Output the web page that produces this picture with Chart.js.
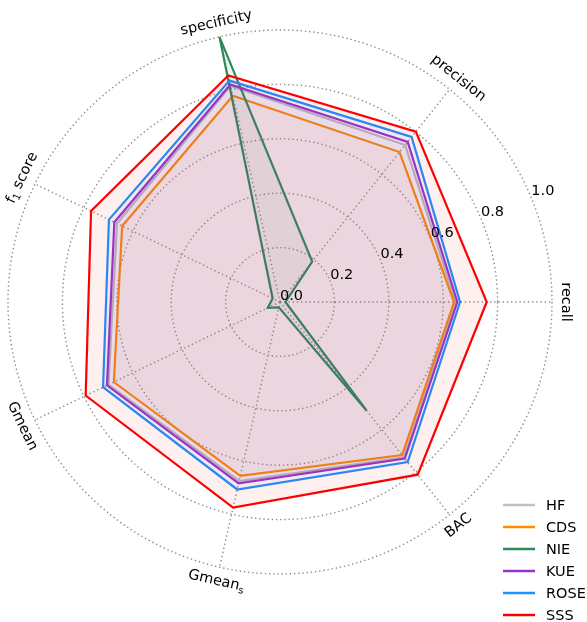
<!DOCTYPE html>
<html>
<head>
<meta charset="utf-8">
<script src="https://cdn.jsdelivr.net/npm/chart.js"></script>
<style>
    html, body { margin: 0; padding: 0; background: #fff; }
    canvas { display: block; }
</style>
</head>
<body>
<canvas id="radarChart" width="587" height="622"></canvas>
<script>
// axes in the order chart.js walks them (clockwise, starting on the right)
// '_' marks a one character subscript
const metrics = ['recall', 'BAC', 'Gmean_s', 'Gmean', 'f_1 score', 'specificity', 'precision']

const methods = ['HF', 'CDS', 'NIE', 'KUE', 'ROSE', 'SSS']
const colors = ['#c0c0c0', '#ff8c00', '#2e8b57', '#9932cc', '#1e90ff', '#ff0000']

const hfScores   = [0.645, 0.730, 0.675, 0.700, 0.665, 0.815, 0.738]
const cdsScores  = [0.640, 0.720, 0.656, 0.678, 0.644, 0.778, 0.705]
const nieScores  = [0.020, 0.510, 0.020, 0.050, 0.030, 1.000, 0.190]
const kueScores  = [0.652, 0.736, 0.684, 0.706, 0.676, 0.820, 0.753]
const roseScores = [0.662, 0.753, 0.707, 0.722, 0.698, 0.835, 0.776]
const sssScores  = [0.760, 0.812, 0.775, 0.793, 0.771, 0.854, 0.801]

const tickValues = [0, 0.2, 0.4, 0.6, 0.8, 1.0]
const tickLabels = ['0.0', '0.2', '0.4', '0.6', '0.8', '1.0']

const FONT = '14.5px "DejaVu Sans"'
const SUB_FONT = '10px "DejaVu Sans"'

function withAlpha(hex, a) {
    const n = parseInt(hex.slice(1), 16)
    return `rgba(${(n >> 16) & 255}, ${(n >> 8) & 255}, ${n & 255}, ${a})`
}

// 'f_1 score' -> [['f', false], ['1', true], [' score', false]]
function splitSub(text) {
    const bits = text.split('_')
    const parts = [[bits[0], false]]
    for (let i = 1; i < bits.length; i++) {
        parts.push([bits[i][0], true])
        if (bits[i].length > 1) parts.push([bits[i].slice(1), false])
    }
    return parts
}

function drawLabel(ctx, text, x, y, rot) {
    const parts = splitSub(text)
    let width = 0
    parts.forEach(p => {
        ctx.font = p[1] ? SUB_FONT : FONT
        p.push(ctx.measureText(p[0]).width)
        width += p[2]
    })
    ctx.save()
    ctx.translate(x, y)
    ctx.rotate(rot)
    ctx.textAlign = 'left'
    ctx.textBaseline = 'middle'
    let cx = -width / 2
    parts.forEach(p => {
        ctx.font = p[1] ? SUB_FONT : FONT
        ctx.fillText(p[0], cx, p[1] ? 4 : 0)
        cx += p[2]
    })
    ctx.restore()
}

// tick labels, rotated axis names and the legend, drawn the matplotlib way
const decorations = {
    id: 'decorations',
    afterDatasetsDraw(chart) {
        const ctx = chart.ctx
        const scale = chart.scales.r
        ctx.save()
        ctx.fillStyle = '#000'

        // radial tick labels along 22.5 degrees
        const tickAngle = 22.5 * Math.PI / 180
        ctx.font = FONT
        ctx.textAlign = 'left'
        ctx.textBaseline = 'bottom'
        tickValues.forEach((v, i) => {
            const r = scale.getDistanceFromCenterForValue(v)
            const x = scale.xCenter + r * Math.cos(tickAngle)
            const y = scale.yCenter - r * Math.sin(tickAngle)
            ctx.fillText(tickLabels[i], x, y + 1)
        })

        // axis names, turned so they sit across their spoke
        chart.data.labels.forEach((label, i) => {
            const pos = scale.getPointPositionForValue(i, 1.052)
            let deg = -(scale.getIndexAngle(i) - Math.PI / 2) * 180 / Math.PI
            deg = ((deg % 360) + 360) % 360
            if (deg > 359.9) deg = 0
            const rot = deg <= 180 ? deg - 90 : deg - 270
            drawLabel(ctx, label, pos.x, pos.y, -rot * Math.PI / 180)
        })

        // legend in the bottom right corner
        ctx.font = FONT
        ctx.textAlign = 'left'
        ctx.textBaseline = 'middle'
        chart.data.datasets.forEach((ds, i) => {
            const y = 505 + i * 22
            ctx.strokeStyle = ds.borderColor
            ctx.lineWidth = 2.5
            ctx.beginPath()
            ctx.moveTo(503, y)
            ctx.lineTo(535, y)
            ctx.stroke()
            ctx.fillStyle = '#000'
            ctx.fillText(ds.label, 546, y + 1)
        })
        ctx.restore()
    }
}

const allScores = [hfScores, cdsScores, nieScores, kueScores, roseScores, sssScores]

const ctx = document.getElementById('radarChart').getContext('2d')
const radarChart = new Chart(ctx, {
    type: 'radar',
    data: {
        labels: metrics,
        datasets: methods.map((name, i) => ({
            label: name,
            data: allScores[i],
            borderColor: colors[i],
            backgroundColor: withAlpha(colors[i], 0.06),
            borderWidth: 2.2,
            pointRadius: 0,
            fill: true,
            order: methods.length - i     // SSS on top, HF at the bottom
        }))
    },
    options: {
        responsive: false,
        animation: false,
        devicePixelRatio: 1,
        layout: {
            padding: { left: 8, right: 35, top: 30, bottom: 48 }
        },
        scales: {
            r: {
                min: 0,
                max: 1,
                startAngle: 90,
                ticks: { display: false, stepSize: 0.2 },
                pointLabels: { display: false },
                grid: { circular: true, color: '#8c8c8c', lineWidth: 1.4 },
                border: { dash: [1.4, 2.8] },
                angleLines: { color: '#8c8c8c', lineWidth: 1.4, borderDash: [1.4, 2.8] }
            }
        },
        plugins: {
            legend: { display: false },
            tooltip: { enabled: false }
        }
    },
    plugins: [decorations]
})
</script>
</body>
</html>
